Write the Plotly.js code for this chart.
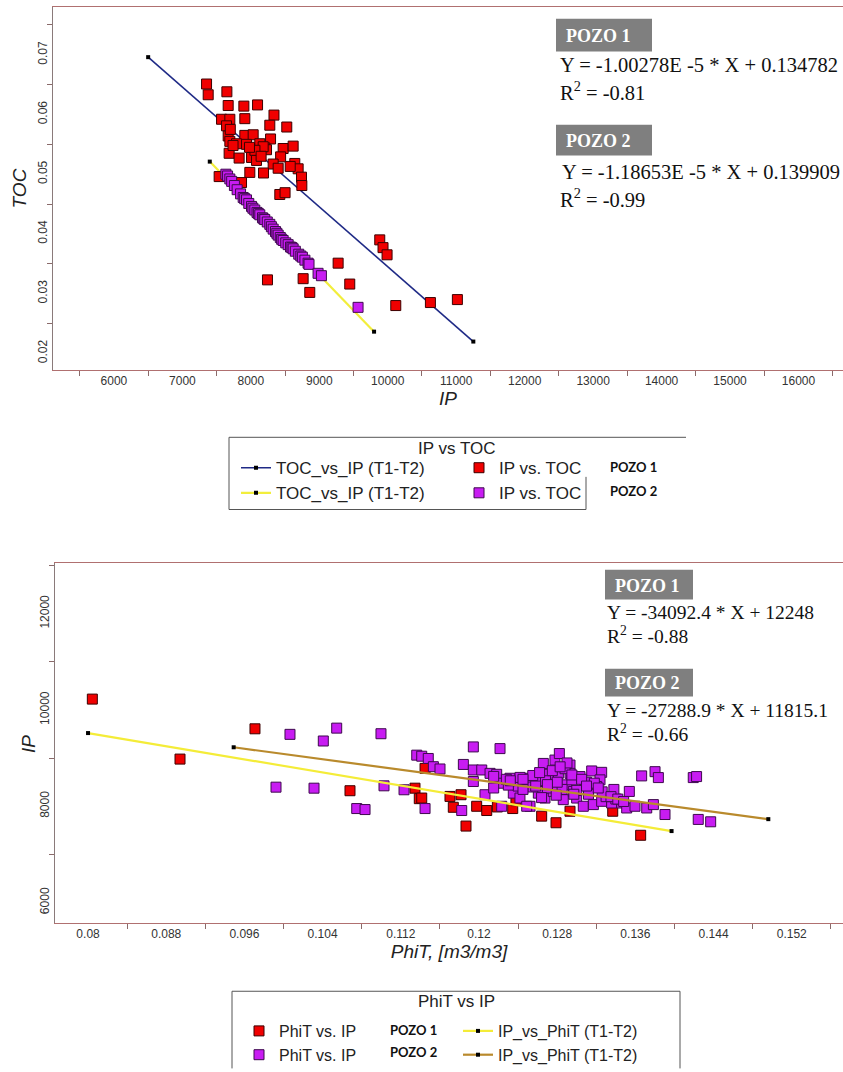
<!DOCTYPE html>
<html>
<head>
<meta charset="utf-8">
<script src="https://cdn.plot.ly/plotly-3.0.1.min.js"></script>
<style>
  html, body { margin: 0; padding: 0; background: #ffffff; }
  #chart { width: 843px; height: 1072px; }
</style>
</head>
<body>
<div id="chart"></div>
<script>
// ---- IP vs TOC ----
const ipPozo1 = [7353, 7377, 7650, 7669, 7898, 8098, 8338, 7912, 7572, 7693, 7645, 8277, 8525, 7669, 7912, 8034, 8288, 7693, 7791, 7937,
  8131, 8204, 8229, 8180, 7683, 7829, 8010, 8083, 8472, 8618, 8435, 8642, 8326, 8399, 8691, 8740, 8745, 7985, 8185, 7537,
  7864, 8423, 8500, 8575, 8060, 7740, 8150, 7700, 7980, 9883, 9931, 9990, 9275, 9445, 8764, 8861, 8243, 10117, 10623, 11017];
const tocPozo1 = [0.0651, 0.0633, 0.0638, 0.0615, 0.0614, 0.0616, 0.0599, 0.0593, 0.0592, 0.0592, 0.0581, 0.0582, 0.0579, 0.0564, 0.0565, 0.0566, 0.0559, 0.0555, 0.0551, 0.0550,
  0.0551, 0.0544, 0.0541, 0.0546, 0.0535, 0.0527, 0.0528, 0.0523, 0.0543, 0.0547, 0.0529, 0.0518, 0.0517, 0.0510, 0.0509, 0.0495, 0.0481, 0.0503, 0.0502, 0.0496,
  0.0486, 0.0466, 0.0469, 0.0513, 0.0540, 0.0548, 0.0530, 0.0575, 0.0545, 0.0390, 0.0377, 0.0365, 0.0351, 0.0316, 0.0325, 0.0302, 0.0323, 0.0280, 0.0285, 0.0290];

const ipPozo2 = [7635, 7660, 7693, 7720, 7760, 7800, 7850, 7888, 7910, 7937, 7970, 8010, 8030, 8058, 8090, 8110, 8131, 8170, 8190, 8204,
  8240, 8277, 8300, 8326, 8360, 8380, 8399, 8430, 8450, 8472, 8510, 8545, 8580, 8600, 8618, 8650, 8700, 8730, 8753, 8790,
  8836, 8850, 8982, 9031, 9566];
const tocPozo2 = [0.0500, 0.0497, 0.0492, 0.0488, 0.0481, 0.0474, 0.0467, 0.0461, 0.0459, 0.0457, 0.0451, 0.0446, 0.0443, 0.0440, 0.0436, 0.0434, 0.0432, 0.0427, 0.0425, 0.0424,
  0.0420, 0.0416, 0.0412, 0.0408, 0.0404, 0.0401, 0.0398, 0.0394, 0.0391, 0.0389, 0.0385, 0.0382, 0.0378, 0.0377, 0.0375, 0.0371, 0.0366, 0.0363, 0.0361, 0.0356,
  0.0351, 0.0349, 0.0334, 0.0330, 0.0277];

// TOC = slope * IP + intercept, drawn between the IP limits of each well
const tocFitSlope = [-1.00278e-5, -1.18653e-5];
const tocFitIntercept = [0.134782, 0.139909];
const tocFitIpFrom = [6500, 7400];
const tocFitIpTo = [11250, 9800];
const tocFitR2 = ['-0.81', '-0.99'];

// ---- PhiT vs IP ----
const phitPozo1 = [0.08044, 0.09708, 0.08941, 0.10680, 0.11345, 0.11389, 0.11448, 0.11414, 0.11703, 0.11816, 0.11737, 0.11867, 0.11976, 0.12079, 0.12188, 0.12345, 0.12378, 0.12641, 0.12788, 0.12931,
  0.13368, 0.13654];
const ipPhitPozo1 = [10226, 9609, 8980, 8323, 8376, 8158, 8787, 8171, 8205, 8240, 7979, 7589, 8000, 7912, 7986, 7953, 8117, 7795, 7658, 7897,
  7897, 7398];

const phitPozo2 = [0.10066, 0.10544, 0.10407, 0.10997, 0.09923, 0.10312, 0.10749, 0.10834, 0.11028, 0.11233, 0.11363, 0.11414, 0.11481, 0.11533, 0.11601, 0.11840, 0.11942, 0.12215, 0.11942, 0.12028,
  0.12113, 0.12181, 0.11942, 0.12215, 0.12317, 0.12419, 0.12522, 0.12607, 0.12658, 0.12777, 0.12822, 0.12709, 0.12812, 0.12931, 0.12931, 0.13033, 0.13084, 0.13153, 0.13255, 0.13238,
  0.13204, 0.12351, 0.12419, 0.12522, 0.12607, 0.12675, 0.12760, 0.12862, 0.12999, 0.13067, 0.13170, 0.13255, 0.13357, 0.13460, 0.13511, 0.13538, 0.13596, 0.13664, 0.13801, 0.13835,
  0.13716, 0.13784, 0.13903, 0.14192, 0.14226, 0.14243, 0.14370, 0.11448, 0.11823, 0.12061, 0.12232, 0.12488, 0.12897, 0.12965, 0.12400, 0.12550, 0.12700, 0.12850, 0.13000, 0.13120,
  0.13300, 0.13400, 0.12450, 0.12150, 0.12300, 0.12800, 0.12950, 0.13100, 0.12680, 0.13380, 0.12150, 0.12280, 0.12420, 0.12550, 0.12620, 0.12750, 0.12880, 0.12950, 0.13050, 0.13180,
  0.13260, 0.13350, 0.13420, 0.13480, 0.12900, 0.12830, 0.12700, 0.12580, 0.12450, 0.12320, 0.13100, 0.13220, 0.12970, 0.12790, 0.12640];
const ipPhitPozo2 = [9494, 9623, 9356, 9507, 8397, 8376, 7953, 7932, 8425, 8343, 9062, 9040, 8993, 8822, 8775, 8869, 9233, 9198, 8754, 8754,
  8684, 8664, 8514, 8479, 8582, 8514, 8582, 8514, 8890, 8960, 9095, 8664, 8684, 8857, 8684, 8617, 8446, 8734, 8705, 8549,
  8411, 8273, 8171, 8000, 8273, 8171, 8308, 8138, 8171, 8000, 8035, 8103, 8068, 8068, 7965, 8308, 8000, 8631, 8719, 8596,
  7965, 8035, 7829, 8596, 8617, 7727, 7678, 7953, 7912, 8240, 8000, 8000, 8446, 8308, 8420, 8400, 8380, 8350, 8330, 8250,
  8200, 8150, 8350, 8380, 8440, 8500, 8550, 8500, 8530, 8350, 8620, 8560, 8600, 8640, 8700, 8740, 8780, 8650, 8560, 8480,
  8300, 8200, 8150, 8100, 8900, 8820, 8450, 8420, 8560, 8530, 8420, 8380, 8250, 8230, 8180];

// IP = slope * PhiT + intercept
const ipFitSlope = [-34092.4, -27288.9];
const ipFitIntercept = [12248, 11815.1];
const ipFitPhitFrom = [0.0800, 0.0949];
const ipFitPhitTo = [0.1397, 0.1496];
const ipFitR2 = ['-0.88', '-0.66'];

const wellNames = ['POZO 1', 'POZO 2'];

// ---- helpers: page pixels -> paper coordinates (plot area 53..843 x 7..933) ----
const ML = 53, MT = 7, PW = 790, PH = 926;
const px = v => (v - ML) / PW;
const py = v => 1 - (v - MT) / PH;

const RED = '#f00000', RED_EDGE = '#3c0000';
const PURPLE = '#c81cf2', PURPLE_EDGE = '#3e0a4e';
const SANS = 'Liberation Sans, Arial, sans-serif';
const SERIF = 'Liberation Serif, Times New Roman, serif';

function fitLine(slope, intercept, from, to) {
  const xs = [from, to];
  return { x: xs, y: xs.map(v => slope * v + intercept) };
}

const tocLine1 = fitLine(tocFitSlope[0], tocFitIntercept[0], tocFitIpFrom[0], tocFitIpTo[0]);
const tocLine2 = fitLine(tocFitSlope[1], tocFitIntercept[1], tocFitIpFrom[1], tocFitIpTo[1]);
const ipLine1 = fitLine(ipFitSlope[0], ipFitIntercept[0], ipFitPhitFrom[0], ipFitPhitTo[0]);
const ipLine2 = fitLine(ipFitSlope[1], ipFitIntercept[1], ipFitPhitFrom[1], ipFitPhitTo[1]);

const sq = (color, edge) => ({ symbol: 'square', size: 10, color: color, line: { color: edge, width: 1 } });
const endDot = { symbol: 'square', size: 4, color: '#000000' };

const traces = [
  // top chart
  { type: 'scatter', mode: 'lines+markers', x: tocLine1.x, y: tocLine1.y, xaxis: 'x', yaxis: 'y',
    line: { color: '#1f2a86', width: 1.6 }, marker: endDot, name: 'TOC_vs_IP (T1-T2)', legend: 'legend' },
  { type: 'scatter', mode: 'lines+markers', x: tocLine2.x, y: tocLine2.y, xaxis: 'x', yaxis: 'y',
    line: { color: '#f2ee3c', width: 2.2 }, marker: endDot, name: 'TOC_vs_IP (T1-T2)', legend: 'legend' },
  { type: 'scatter', mode: 'markers', x: ipPozo1, y: tocPozo1, xaxis: 'x', yaxis: 'y',
    marker: sq(RED, RED_EDGE), name: 'IP vs. TOC', legend: 'legend2' },
  { type: 'scatter', mode: 'markers', x: ipPozo2, y: tocPozo2, xaxis: 'x', yaxis: 'y',
    marker: sq(PURPLE, PURPLE_EDGE), name: 'IP vs. TOC', legend: 'legend2' },
  // bottom chart
  { type: 'scatter', mode: 'markers', x: phitPozo1, y: ipPhitPozo1, xaxis: 'x2', yaxis: 'y2',
    marker: sq(RED, RED_EDGE), name: 'PhiT vs. IP', legend: 'legend3' },
  { type: 'scatter', mode: 'markers', x: phitPozo2, y: ipPhitPozo2, xaxis: 'x2', yaxis: 'y2',
    marker: sq(PURPLE, PURPLE_EDGE), name: 'PhiT vs. IP', legend: 'legend3' },
  { type: 'scatter', mode: 'lines+markers', x: ipLine1.x, y: ipLine1.y, xaxis: 'x2', yaxis: 'y2',
    line: { color: '#f4ec38', width: 2.2 }, marker: endDot, name: 'IP_vs_PhiT (T1-T2)', legend: 'legend4' },
  { type: 'scatter', mode: 'lines+markers', x: ipLine2.x, y: ipLine2.y, xaxis: 'x2', yaxis: 'y2',
    line: { color: '#b98a2c', width: 2.2 }, marker: endDot, name: 'IP_vs_PhiT (T1-T2)', legend: 'legend4' }
];

// axis helpers
const tickFont = { family: SANS, size: 12, color: '#333333' };
const titleFont = { family: SANS, size: 19, color: '#222222' };
function mainAxis(extra) {
  return Object.assign({
    showgrid: false, zeroline: false, showline: true, linewidth: 1,
    ticks: '', tickfont: tickFont, automargin: false, fixedrange: true, exponentformat: 'none'
  }, extra);
}

const xRange1 = [5110, 16650], yRange1 = [0.0172, 0.078];
const xRange2 = [0.07662, 0.15724], yRange2 = [5576, 13054];
const yDom1 = [(933 - 374) / PH, 1];
const yDom2 = [0, (933 - 569) / PH];
const xDom2 = [(55 - ML) / PW, 1];
const minorTicks = (dt, t0) => ({ dtick: dt, tick0: t0, ticks: 'outside', ticklen: 5, tickcolor: '#8a6a6a' });

function legendAt(left, top, size) {
  return {
    x: px(left), y: py(top), xanchor: 'left', yanchor: 'top', xref: 'paper', yref: 'paper',
    orientation: 'v', bgcolor: 'rgba(0,0,0,0)', borderwidth: 0, tracegroupgap: 0,
    font: { family: SANS, size: size, color: '#222222' }, itemclick: false, itemdoubleclick: false
  };
}

const shapes = [];
const annotations = [];
function rectPx(x0, y0, x1, y1, fill) {
  shapes.push({ type: 'rect', xref: 'paper', yref: 'paper', x0: px(x0), x1: px(x1), y0: py(y0), y1: py(y1),
    fillcolor: fill, line: { width: 0 }, layer: 'above' });
}
function linePx(x0, y0, x1, y1, color) {
  shapes.push({ type: 'line', xref: 'paper', yref: 'paper', x0: px(x0), x1: px(x1), y0: py(y0), y1: py(y1),
    line: { color: color, width: 1 }, layer: 'above' });
}
function textPx(x, y, text, font, anchor, angle) {
  annotations.push({ xref: 'paper', yref: 'paper', x: px(x), y: py(y), text: text, showarrow: false,
    xanchor: anchor || 'left', yanchor: 'middle', font: font, textangle: angle || 0 });
}

// equation blocks
const eqFontTop = { family: SERIF, size: 20.5, color: '#111111' };
const eqFontBot = { family: SERIF, size: 19.5, color: '#111111' };
const badgeFont = { family: SERIF, size: 18, color: '#ffffff' };
const fmtCoef = v => v.toExponential(5).replace('e', 'E ');
// top chart
rectPx(556, 19, 652, 52, '#7f7f7f');
textPx(564, 36, '<b>' + wellNames[0] + '</b>', badgeFont);
textPx(558, 66, 'Y = ' + fmtCoef(tocFitSlope[0]) + ' * X + ' + tocFitIntercept[0], eqFontTop);
textPx(558, 92, 'R<sup>2</sup> = ' + tocFitR2[0], eqFontTop);
rectPx(556, 126, 652, 157, '#7f7f7f');
textPx(564, 142, '<b>' + wellNames[1] + '</b>', badgeFont);
textPx(560, 174, 'Y = ' + fmtCoef(tocFitSlope[1]) + ' * X + ' + tocFitIntercept[1], eqFontTop);
textPx(558, 200, 'R<sup>2</sup> = ' + tocFitR2[1], eqFontTop);
// bottom chart
rectPx(605, 576, 693, 606, '#7f7f7f');
textPx(613, 592, '<b>' + wellNames[0] + '</b>', badgeFont);
textPx(605, 619, 'Y = ' + ipFitSlope[0] + ' * X + ' + ipFitIntercept[0], eqFontBot);
textPx(605, 642, 'R<sup>2</sup> = ' + ipFitR2[0], eqFontBot);
rectPx(605, 676, 693, 704, '#7f7f7f');
textPx(613, 690, '<b>' + wellNames[1] + '</b>', badgeFont);
textPx(605, 718, 'Y = ' + ipFitSlope[1] + ' * X + ' + ipFitIntercept[1], eqFontBot);
textPx(605, 741, 'R<sup>2</sup> = ' + ipFitR2[1], eqFontBot);

// y title of the lower panel, set a little closer to its tick labels
textPx(29, 752, '<i>IP</i>', titleFont, 'center', -90);

// legend frames, titles and well tags
const frame = '#555555';
linePx(229, 442, 686, 442, frame);
linePx(229, 442, 229, 515, frame);
linePx(229, 515, 586, 515, frame);
linePx(586, 482, 586, 515, frame);
textPx(457, 453, 'IP vs TOC', { family: SANS, size: 17, color: '#222222' }, 'center');
const tagFont = { family: 'Lato, Open Sans, sans-serif', size: 13, color: '#111111' };
textPx(608, 472, '<b>' + wellNames[0] + '</b>', tagFont);
textPx(608, 496, '<b>' + wellNames[1] + '</b>', tagFont);

linePx(232, 1002, 680, 1002, frame);
linePx(232, 1002, 232, 1080, frame);
linePx(680, 1002, 680, 1080, frame);
textPx(456, 1012, 'PhiT vs IP', { family: SANS, size: 17, color: '#222222' }, 'center');
textPx(388, 1041, '<b>' + wellNames[0] + '</b>', tagFont);
textPx(388, 1063, '<b>' + wellNames[1] + '</b>', tagFont);

const layout = {
  width: 843, height: 1072,
  margin: { l: ML, r: 0, t: MT, b: 1072 - 933, pad: 0 },
  paper_bgcolor: '#ffffff', plot_bgcolor: '#ffffff',
  showlegend: true,
  xaxis: mainAxis({ domain: [0, 1], range: xRange1, anchor: 'y', dtick: 1000, tick0: 0, tickformat: 'd',
    linecolor: '#b07070', mirror: true, minor: minorTicks(500, 500),
    title: { text: '<i>IP</i>', font: titleFont, standoff: 2 } }),
  yaxis: mainAxis({ domain: yDom1, range: yRange1, anchor: 'x', dtick: 0.01, tick0: 0, tickangle: -90,
    linecolor: '#8a7a7a', minor: minorTicks(0.005, 0.005),
    title: { text: '<i>TOC</i>', font: titleFont, standoff: 4 } }),
  xaxis2: mainAxis({ domain: xDom2, range: xRange2, anchor: 'y2', dtick: 0.008, tick0: 0,
    linecolor: '#b07070', mirror: true, minor: minorTicks(0.004, 0.004),
    title: { text: '<i>PhiT, [m3/m3]</i>', font: titleFont, standoff: 4 } }),
  yaxis2: mainAxis({ domain: yDom2, range: yRange2, anchor: 'x2', dtick: 2000, tick0: 0, tickangle: -90, tickformat: 'd',
    linecolor: '#8a7a7a', minor: minorTicks(1000, 1000) }),

  legend: legendAt(236, 455, 17),
  legend2: legendAt(459, 455, 17),
  legend3: legendAt(239, 1025, 16),
  legend4: legendAt(458, 1025, 16),
  shapes: shapes,
  annotations: annotations
};

Plotly.newPlot('chart', traces, layout, { displayModeBar: false, staticPlot: true });
</script>
</body>
</html>
